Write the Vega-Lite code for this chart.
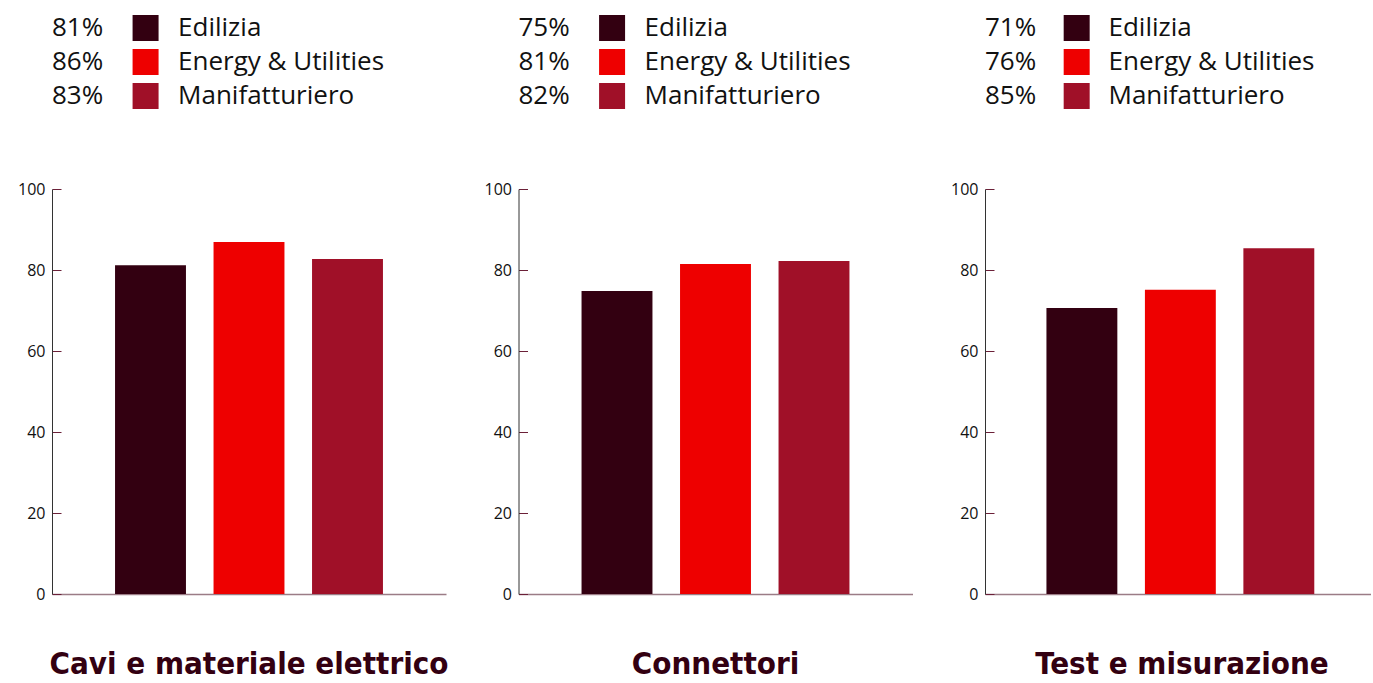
{
  "$schema": "https://vega.github.io/schema/vega-lite/v6.json",
  "background": "white",
  "padding": {"left": 17, "top": 11, "right": 0, "bottom": 0},
  "config": {"view": {"stroke": null}, "font": "Open Sans"},
  "datasets": {
    "d": [
      {"panel": "Cavi e materiale elettrico", "series": "Edilizia", "value": 81.2, "pct": "81%"},
      {"panel": "Cavi e materiale elettrico", "series": "Energy & Utilities", "value": 86.9, "pct": "86%"},
      {"panel": "Cavi e materiale elettrico", "series": "Manifatturiero", "value": 82.7, "pct": "83%"},
      {"panel": "Connettori", "series": "Edilizia", "value": 74.8, "pct": "75%"},
      {"panel": "Connettori", "series": "Energy & Utilities", "value": 81.5, "pct": "81%"},
      {"panel": "Connettori", "series": "Manifatturiero", "value": 82.2, "pct": "82%"},
      {"panel": "Test e misurazione", "series": "Edilizia", "value": 70.6, "pct": "71%"},
      {"panel": "Test e misurazione", "series": "Energy & Utilities", "value": 75.1, "pct": "76%"},
      {"panel": "Test e misurazione", "series": "Manifatturiero", "value": 85.4, "pct": "85%"}
    ]
  },
  "bounds": "flush",
  "columns": 3,
  "spacing": {"row": 76, "column": 72.5},
  "concat": [
    {
      "width": 394, "height": 102,
      "data": {"name": "d"},
      "transform": [{"filter": "datum.panel === 'Cavi e materiale elettrico'"}],
      "encoding": {
        "y": {"field": "series", "type": "nominal", "sort": ["Edilizia", "Energy & Utilities", "Manifatturiero"], "axis": null, "scale": {"type": "band", "paddingInner": 0, "paddingOuter": 0}}
      },
      "layer": [
        {"mark": {"type": "text", "align": "left", "baseline": "middle", "fontSize": 26, "color": "#111111"},
         "encoding": {"x": {"datum": 0, "type": "quantitative", "scale": {"domain": [0, 394]}, "axis": null}, "text": {"field": "pct"}}},
        {"mark": {"type": "square", "size": 676, "opacity": 1},
         "encoding": {"x": {"datum": 95, "type": "quantitative"}, "color": {"field": "series", "type": "nominal", "scale": {"domain": ["Edilizia", "Energy & Utilities", "Manifatturiero"], "range": ["#330011", "#EE0000", "#A01028"]}, "legend": null}}},
        {"mark": {"type": "text", "align": "left", "baseline": "middle", "fontSize": 26, "color": "#111111"},
         "encoding": {"x": {"datum": 128, "type": "quantitative"}, "text": {"field": "series"}}}
      ]
    },
    {
      "width": 394, "height": 102,
      "data": {"name": "d"},
      "transform": [{"filter": "datum.panel === 'Connettori'"}],
      "encoding": {
        "y": {"field": "series", "type": "nominal", "sort": ["Edilizia", "Energy & Utilities", "Manifatturiero"], "axis": null, "scale": {"type": "band", "paddingInner": 0, "paddingOuter": 0}}
      },
      "layer": [
        {"mark": {"type": "text", "align": "left", "baseline": "middle", "fontSize": 26, "color": "#111111"},
         "encoding": {"x": {"datum": 0, "type": "quantitative", "scale": {"domain": [0, 394]}, "axis": null}, "text": {"field": "pct"}}},
        {"mark": {"type": "square", "size": 676, "opacity": 1},
         "encoding": {"x": {"datum": 95, "type": "quantitative"}, "color": {"field": "series", "type": "nominal", "scale": {"domain": ["Edilizia", "Energy & Utilities", "Manifatturiero"], "range": ["#330011", "#EE0000", "#A01028"]}, "legend": null}}},
        {"mark": {"type": "text", "align": "left", "baseline": "middle", "fontSize": 26, "color": "#111111"},
         "encoding": {"x": {"datum": 128, "type": "quantitative"}, "text": {"field": "series"}}}
      ]
    },
    {
      "width": 386, "height": 102,
      "data": {"name": "d"},
      "transform": [{"filter": "datum.panel === 'Test e misurazione'"}],
      "encoding": {
        "y": {"field": "series", "type": "nominal", "sort": ["Edilizia", "Energy & Utilities", "Manifatturiero"], "axis": null, "scale": {"type": "band", "paddingInner": 0, "paddingOuter": 0}}
      },
      "layer": [
        {"mark": {"type": "text", "align": "left", "baseline": "middle", "fontSize": 26, "color": "#111111"},
         "encoding": {"x": {"datum": 0, "type": "quantitative", "scale": {"domain": [0, 386]}, "axis": null}, "text": {"field": "pct"}}},
        {"mark": {"type": "square", "size": 676, "opacity": 1},
         "encoding": {"x": {"datum": 95, "type": "quantitative"}, "color": {"field": "series", "type": "nominal", "scale": {"domain": ["Edilizia", "Energy & Utilities", "Manifatturiero"], "range": ["#330011", "#EE0000", "#A01028"]}, "legend": null}}},
        {"mark": {"type": "text", "align": "left", "baseline": "middle", "fontSize": 26, "color": "#111111"},
         "encoding": {"x": {"datum": 128, "type": "quantitative"}, "text": {"field": "series"}}}
      ]
    },
    {
      "width": 394, "height": 405,
      "data": {"name": "d"},
      "transform": [{"filter": "datum.panel === 'Cavi e materiale elettrico'"}],
      "title": {"text": "Cavi e materiale elettrico", "orient": "bottom", "anchor": "middle", "font": "DejaVu Sans Condensed, Liberation Sans Narrow, Open Sans", "fontWeight": "bold", "fontSize": 31, "color": "#330011", "offset": 48},
      "mark": {"type": "bar"},
      "encoding": {
        "x": {"field": "series", "type": "nominal", "sort": ["Edilizia", "Energy & Utilities", "Manifatturiero"], "scale": {"paddingInner": 0.28, "paddingOuter": 0.64}, "axis": {"title": null, "labels": false, "ticks": false, "domainColor": "#9b7c86", "domainWidth": 1.5}},
        "y": {"field": "value", "type": "quantitative", "scale": {"domain": [0, 100]}, "axis": {"title": null, "values": [0, 20, 40, 60, 80, 100], "grid": false, "domainColor": "#333333", "tickColor": "#6b2038", "tickSize": -9, "labelPadding": 16, "labelFontSize": 16, "labelColor": "#111111"}},
        "color": {"field": "series", "type": "nominal", "scale": {"domain": ["Edilizia", "Energy & Utilities", "Manifatturiero"], "range": ["#330011", "#EE0000", "#A01028"]}, "legend": null}
      }
    },
    {
      "width": 394, "height": 405,
      "data": {"name": "d"},
      "transform": [{"filter": "datum.panel === 'Connettori'"}],
      "title": {"text": "Connettori", "orient": "bottom", "anchor": "middle", "font": "DejaVu Sans Condensed, Liberation Sans Narrow, Open Sans", "fontWeight": "bold", "fontSize": 31, "color": "#330011", "offset": 48},
      "mark": {"type": "bar"},
      "encoding": {
        "x": {"field": "series", "type": "nominal", "sort": ["Edilizia", "Energy & Utilities", "Manifatturiero"], "scale": {"paddingInner": 0.28, "paddingOuter": 0.64}, "axis": {"title": null, "labels": false, "ticks": false, "domainColor": "#9b7c86", "domainWidth": 1.5}},
        "y": {"field": "value", "type": "quantitative", "scale": {"domain": [0, 100]}, "axis": {"title": null, "values": [0, 20, 40, 60, 80, 100], "grid": false, "domainColor": "#333333", "tickColor": "#6b2038", "tickSize": -9, "labelPadding": 16, "labelFontSize": 16, "labelColor": "#111111"}},
        "color": {"field": "series", "type": "nominal", "scale": {"domain": ["Edilizia", "Energy & Utilities", "Manifatturiero"], "range": ["#330011", "#EE0000", "#A01028"]}, "legend": null}
      }
    },
    {
      "width": 386, "height": 405,
      "data": {"name": "d"},
      "transform": [{"filter": "datum.panel === 'Test e misurazione'"}],
      "title": {"text": "Test e misurazione", "orient": "bottom", "anchor": "middle", "font": "DejaVu Sans Condensed, Liberation Sans Narrow, Open Sans", "fontWeight": "bold", "fontSize": 31, "color": "#330011", "offset": 48, "dx": 4},
      "mark": {"type": "bar"},
      "encoding": {
        "x": {"field": "series", "type": "nominal", "sort": ["Edilizia", "Energy & Utilities", "Manifatturiero"], "scale": {"paddingInner": 0.28, "paddingOuter": 0.6, "align": 0.52}, "axis": {"title": null, "labels": false, "ticks": false, "domainColor": "#9b7c86", "domainWidth": 1.5}},
        "y": {"field": "value", "type": "quantitative", "scale": {"domain": [0, 100]}, "axis": {"title": null, "values": [0, 20, 40, 60, 80, 100], "grid": false, "domainColor": "#333333", "tickColor": "#6b2038", "tickSize": -9, "labelPadding": 16, "labelFontSize": 16, "labelColor": "#111111"}},
        "color": {"field": "series", "type": "nominal", "scale": {"domain": ["Edilizia", "Energy & Utilities", "Manifatturiero"], "range": ["#330011", "#EE0000", "#A01028"]}, "legend": null}
      }
    }
  ]
}
